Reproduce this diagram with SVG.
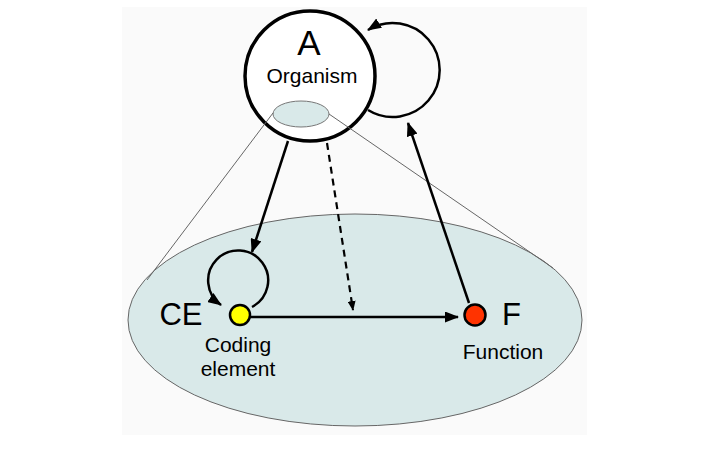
<svg xmlns="http://www.w3.org/2000/svg" width="702" height="458" viewBox="0 0 702 458">
<defs>
<style>
.t{font-family:"Liberation Sans",Arial,sans-serif;fill:#000}
.c{stroke:#000;stroke-width:2.5;fill:none}
.thin{stroke:#666;stroke-width:1;fill:none}
</style>
<marker id="arr" viewBox="0 0 14 11" refX="13" refY="5.5" markerWidth="14" markerHeight="11" markerUnits="userSpaceOnUse" orient="auto">
<path d="M0,0 L14,5.5 L0,11 z" fill="#000"/>
</marker>
<marker id="arrs" viewBox="0 0 10 8" refX="9" refY="4" markerWidth="10" markerHeight="8" markerUnits="userSpaceOnUse" orient="auto">
<path d="M0,0 L10,4 L0,8 z" fill="#000"/>
</marker>
</defs>
<rect x="122" y="7" width="465" height="428" fill="#fafafa"/>
<g id="cell">
<ellipse cx="355" cy="320" rx="227" ry="106" fill="#d9e9e9" stroke="#666" stroke-width="1"/>
</g>
<g id="A">
<circle cx="310" cy="76" r="65" fill="#fff" stroke="#000" stroke-width="3.5"/>
<ellipse cx="301" cy="114" rx="28" ry="13" fill="#d9e9e9" stroke="#777" stroke-width="1"/>
<text class="t" x="309" y="55" font-size="35" text-anchor="middle">A</text>
<text class="t" x="312" y="83" font-size="21" text-anchor="middle">Organism</text>
</g>
<g id="connectors">
<line class="thin" x1="273" y1="113" x2="147" y2="280"/>
<line class="thin" x1="329" y1="114" x2="553" y2="268"/>
<path class="c" d="M368,110 A47,47 0 1 0 368,30" marker-end="url(#arr)"/>
<line class="c" x1="288" y1="141" x2="252" y2="252" marker-end="url(#arr)"/>
<line x1="327" y1="143" x2="353" y2="310" stroke="#000" stroke-width="2.2" stroke-dasharray="7,5" marker-end="url(#arrs)"/>
<line class="c" x1="469" y1="303" x2="408" y2="123" marker-end="url(#arr)"/>
<path class="c" d="M252,307 A30,30 0 1 0 221,305" marker-end="url(#arr)"/>
<line class="c" x1="250" y1="317" x2="458" y2="317" marker-end="url(#arr)"/>
</g>
<g id="CE">
<circle cx="240" cy="315" r="10" fill="#ffff00" stroke="#000" stroke-width="2.5"/>
<text class="t" x="181" y="325" font-size="31" text-anchor="middle">CE</text>
<text class="t" x="238" y="352" font-size="21" text-anchor="middle">Coding</text>
<text class="t" x="238" y="376" font-size="21" text-anchor="middle">element</text>
</g>
<g id="F">
<circle cx="475" cy="315" r="10.5" fill="#ff3300" stroke="#000" stroke-width="2.5"/>
<text class="t" x="502" y="325" font-size="31">F</text>
<text class="t" x="503" y="359" font-size="21" text-anchor="middle">Function</text>
</g>
</svg>
